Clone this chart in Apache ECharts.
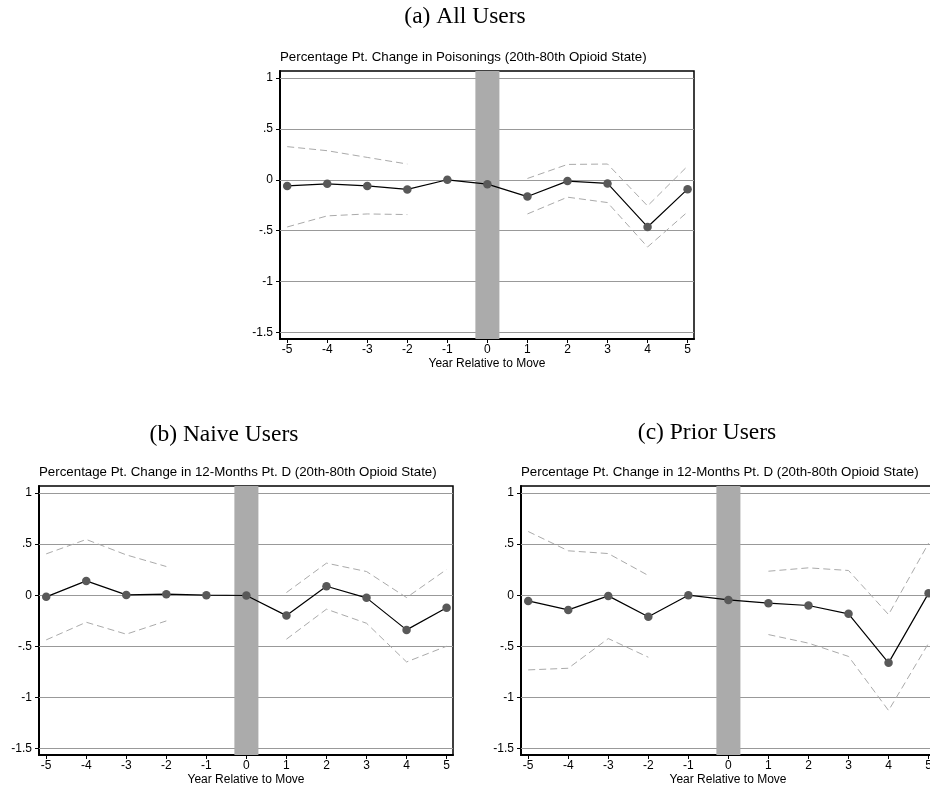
<!DOCTYPE html>
<html>
<head>
<meta charset="utf-8">
<script src="https://cdn.jsdelivr.net/npm/echarts@6/dist/echarts.min.js"></script>
<style>
html,body{margin:0;padding:0;background:#fff;}
#main{width:930px;height:788px;}
</style>
</head>
<body>
<div id="main"></div>
<script>
// event-study years and axis ticks
var years = [-5, -4, -3, -2, -1, 0, 1, 2, 3, 4, 5];
var yTicks = [-1.5, -1, -0.5, 0, 0.5, 1];
var yTickLabels = ['-1.5', '-1', '-.5', '0', '.5', '1'];
var bandFrom = -0.3, bandTo = 0.3;   // shaded move year

// (a) All Users
var allEst   = [-0.06, -0.04, -0.06, -0.095, 0, -0.043, -0.165, -0.013, -0.036, -0.464, -0.092];
var allUpper = [0.326, 0.286, 0.22, 0.155, null, null, 0.013, 0.151, 0.155, -0.257, 0.135];
var allLower = [-0.464, -0.355, -0.336, -0.342, null, null, -0.336, -0.171, -0.224, -0.661, -0.316];

// (b) Naive Users
var naiveEst   = [-0.016, 0.14, 0.003, 0.01, 0, -0.003, -0.2, 0.088, -0.026, -0.34, -0.124];
var naiveUpper = [0.405, 0.546, 0.395, 0.281, null, null, 0.026, 0.314, 0.232, -0.023, 0.252];
var naiveLower = [-0.438, -0.265, -0.382, -0.252, null, null, -0.431, -0.137, -0.275, -0.654, -0.5];

// (c) Prior Users
var priorEst   = [-0.056, -0.144, -0.007, -0.212, 0, -0.046, -0.078, -0.101, -0.183, -0.663, 0.02];
var priorUpper = [0.624, 0.435, 0.408, 0.193, null, null, 0.235, 0.268, 0.242, -0.19, 0.51];
var priorLower = [-0.732, -0.716, -0.425, -0.608, null, null, -0.386, -0.47, -0.6, -1.13, -0.47];

var subPoison = 'Percentage Pt. Change in Poisonings (20th-80th Opioid State)';
var subPartD  = 'Percentage Pt. Change in 12-Months Pt. D (20th-80th Opioid State)';

var sans = 'Liberation Sans, Arial, sans-serif';
var serif = 'Liberation Serif, Times New Roman, serif';

function pairs(vals){
	return years.map(function(x, j){ return [x, vals[j]]; });
}

function xAxisFor(i){
	return {
		gridIndex: i, type: 'value', min: -5.18, max: 5.16,
		axisLine: {onZero: false, lineStyle: {color: '#000', width: 2}},
		axisTick: {customValues: years, length: 4, lineStyle: {color: '#000', width: 1}},
		axisLabel: {customValues: years, color: '#000', fontSize: 12, fontFamily: sans, margin: 5},
		splitLine: {show: false},
		name: 'Year Relative to Move', nameLocation: 'middle', nameGap: 19,
		nameTextStyle: {color: '#000', fontSize: 12, fontFamily: sans}
	};
}

function yAxisFor(i){
	return {
		gridIndex: i, type: 'value', min: -1.566, max: 1.07,
		axisLine: {show: true, onZero: false, lineStyle: {color: '#000', width: 2}},
		axisTick: {show: true, customValues: yTicks, length: 4, lineStyle: {color: '#000', width: 1}},
		axisLabel: {
			customValues: yTicks, color: '#000', fontSize: 12, fontFamily: sans, margin: 7,
			formatter: function(v){
				var k = yTicks.indexOf(+v);
				return k >= 0 ? yTickLabels[k] : '';
			}
		},
		splitLine: {show: false}
	};
}

function panelSeries(i, est, up, lo){
	var dash = {color: '#aaaaaa', width: 1, type: [7, 4]};
	return [{
		type: 'line', xAxisIndex: i, yAxisIndex: i, data: pairs(up), z: 3,
		symbol: 'none', connectNulls: false, lineStyle: dash, silent: true,
		markLine: {
			silent: true, symbol: 'none', z: 1, label: {show: false},
			lineStyle: {color: '#999', type: 'solid', width: 1},
			data: yTicks.map(function(v){ return {yAxis: v}; })
		},
		markArea: {
			silent: true, z: 2,
			itemStyle: {color: '#ababab'},
			data: [[{xAxis: bandFrom}, {xAxis: bandTo}]]
		}
	}, {
		type: 'line', xAxisIndex: i, yAxisIndex: i, data: pairs(lo), z: 3,
		symbol: 'none', connectNulls: false, lineStyle: dash, silent: true
	}, {
		type: 'line', xAxisIndex: i, yAxisIndex: i, data: pairs(est), z: 4,
		symbol: 'circle', symbolSize: 8.5, showSymbol: true,
		itemStyle: {color: '#595959'},
		lineStyle: {color: '#000', width: 1.2}
	}];
}

function head(text, left, top, size, font, center){
	return {
		text: text, left: left, top: top, padding: 0,
		textAlign: center ? 'center' : 'left',
		textStyle: {fontFamily: font, fontSize: size, fontWeight: 'normal', color: '#000'}
	};
}

var chart = echarts.init(document.getElementById('main'));
chart.setOption({
	animation: false,
	backgroundColor: '#fff',
	title: [
		head('(a) All Users', 465, 5, 23.5, serif, true),
		head(subPoison, 280, 51, 13.3, sans, false),
		head('(b) Naive Users', 224, 423, 23.5, serif, true),
		head(subPartD, 39, 466, 13.3, sans, false),
		head('(c) Prior Users', 707, 421, 23.5, serif, true),
		head(subPartD, 521, 466, 13.3, sans, false)
	],
	grid: [
		{left: 280, top: 71, width: 414, height: 268, show: true, borderColor: '#000', borderWidth: 1.5, containLabel: false, outerBoundsMode: 'none'},
		{left: 39, top: 486, width: 414, height: 269, show: true, borderColor: '#000', borderWidth: 1.5, containLabel: false, outerBoundsMode: 'none'},
		{left: 521, top: 486, width: 414, height: 269, show: true, borderColor: '#000', borderWidth: 1.5, containLabel: false, outerBoundsMode: 'none'}
	],
	xAxis: [xAxisFor(0), xAxisFor(1), xAxisFor(2)],
	yAxis: [yAxisFor(0), yAxisFor(1), yAxisFor(2)],
	series: [].concat(
		panelSeries(0, allEst, allUpper, allLower),
		panelSeries(1, naiveEst, naiveUpper, naiveLower),
		panelSeries(2, priorEst, priorUpper, priorLower)
	)
});
</script>
</body>
</html>
